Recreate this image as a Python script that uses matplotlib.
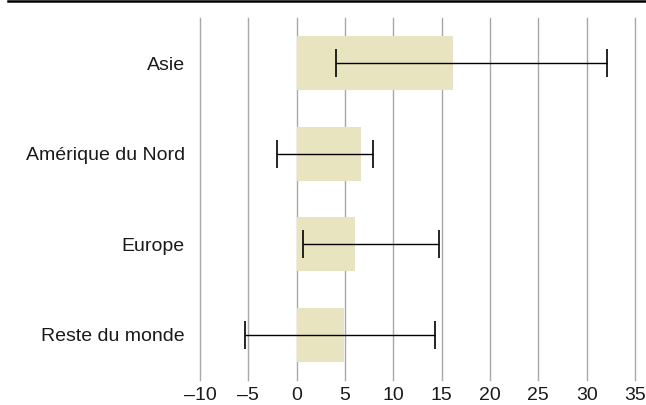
import matplotlib
matplotlib.use("Agg")
import matplotlib.pyplot as plt
from matplotlib.lines import Line2D

categories = ["Asie", "Amérique du Nord", "Europe", "Reste du monde"]
values = [16.2, 6.7, 6.0, 4.9]
err_low = [4.1, -2.0, 0.7, -5.3]
err_high = [32.1, 7.9, 14.7, 14.3]
xticks = [-10, -5, 0, 5, 10, 15, 20, 25, 30, 35]

plt.rcParams['font.family'] = ['Liberation Sans', 'DejaVu Sans']

fig = plt.figure(figsize=(6.46, 4.05), dpi=100)
ax = fig.add_axes([200/646, 1-380/405, (635-200)/646, (380-18)/405])

y = list(range(len(categories)))
ax.barh(y, values, height=0.6, color='#e9e4c0', zorder=2)
centers = [(l + h) / 2 for l, h in zip(err_low, err_high)]
xerr = [[c - l for c, l in zip(centers, err_low)], [h - c for c, h in zip(centers, err_high)]]
ax.errorbar(centers, y, xerr=xerr, fmt='none', ecolor='black', elinewidth=1.0,
            capsize=9.8, capthick=1.2, zorder=3)

ax.set_xlim(-10, 35)
ax.set_ylim(3.5, -0.5)
ax.set_xticks(xticks)
ax.set_xticklabels([f"{t}".replace('-', '\u2013') for t in xticks])
ax.set_yticks(y)
ax.set_yticklabels(categories)
ax.tick_params(axis='both', length=0, labelsize=14, colors='#1a1a1a')
ax.tick_params(axis='y', pad=11)
ax.tick_params(axis='x', pad=5)
ax.grid(axis='x', color='#a8a8a8', linewidth=1.0, zorder=0)
ax.set_axisbelow(True)
for gl in ax.get_xgridlines():
    gl.set_clip_on(False)
for s in ax.spines.values():
    s.set_visible(False)

fig.add_artist(Line2D([8/646, 1], [1 - 1/405, 1 - 1/405], color='black', linewidth=1.8,
                      transform=fig.transFigure))

fig.savefig("out.png", dpi=100)
